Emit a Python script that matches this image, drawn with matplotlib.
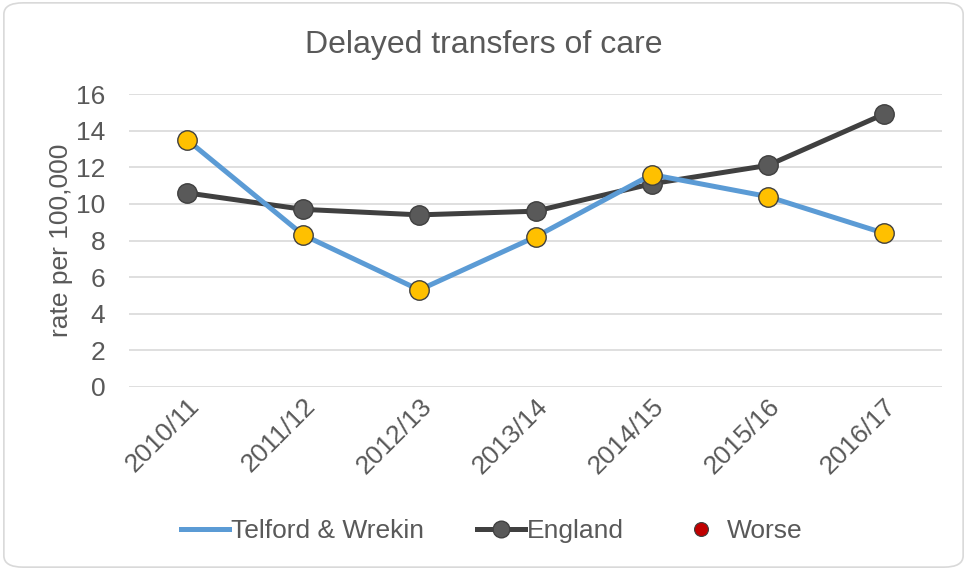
import matplotlib
matplotlib.use("Agg")
import matplotlib.pyplot as plt
from matplotlib.patches import FancyBboxPatch
from matplotlib.lines import Line2D

plt.rcParams['font.family'] = ['Liberation Sans', 'DejaVu Sans']

years = ["2010/11", "2011/12", "2012/13", "2013/14", "2014/15", "2015/16", "2016/17"]
telford = [13.5, 8.3, 5.3, 8.2, 11.6, 10.4, 8.4]
england = [10.6, 9.7, 9.4, 9.6, 11.1, 12.1, 14.9]

grey_txt = "#595959"

fig = plt.figure(figsize=(9.67, 5.70), dpi=100)
# rounded chart border
fig.patches.append(FancyBboxPatch((0.004, 0.005), 0.992, 0.99, boxstyle="round,pad=0,rounding_size=0.02",
                                  transform=fig.transFigure, fill=False, edgecolor="#D9D9D9", linewidth=1.2))

ax = fig.add_axes([129/967, 1 - 387/570, (942 - 129)/967, (387 - 94)/570])
x = list(range(len(years)))

ax.plot(x, england, color="#404040", linewidth=3.6, marker="o", markersize=14,
        markerfacecolor="#595959", markeredgecolor="#404040", markeredgewidth=1, zorder=3)
ax.plot(x, telford, color="#5B9BD5", linewidth=3.6, zorder=4)
ax.plot(x, telford, linestyle="none", marker="o", markersize=14,
        markerfacecolor="#FFC000", markeredgecolor="#404040", markeredgewidth=1, zorder=5)

ax.set_xlim(-0.5, len(years) - 0.5)
ax.set_ylim(0, 16)
ax.set_yticks(range(0, 17, 2))
ax.set_xticks(x)
ax.set_xticklabels(years, rotation=45, ha="right", rotation_mode="anchor")
ax.tick_params(axis="both", length=0, labelsize=19, labelcolor=grey_txt)
ax.tick_params(axis="x", pad=5)
ax.tick_params(axis="y", pad=17)
ax.grid(axis="y", color="#D9D9D9", linewidth=1.2)
ax.set_axisbelow(True)
for s in ax.spines.values():
    s.set_visible(False)

ax.set_ylabel("rate per 100,000", fontsize=19, color=grey_txt, labelpad=2)
fig.text(0.5, 1 - 45/570, "Delayed transfers of care", ha="center", va="center",
         fontsize=23, color=grey_txt)

handles = [
    Line2D([], [], color="#5B9BD5", linewidth=3.6),
    Line2D([], [], color="#404040", linewidth=3.6, marker="o", markersize=12,
           markerfacecolor="#595959", markeredgecolor="#404040"),
    Line2D([], [], linestyle="none", marker="o", markersize=10,
           markerfacecolor="#C00000", markeredgecolor="#404040", markeredgewidth=0.8),
]
fig.legend(handles, ["Telford & Wrekin", "England", "Worse"], loc="center",
           bbox_to_anchor=(492/967, 1 - 531/570), ncol=3, frameon=False, fontsize=19,
           labelcolor=grey_txt, handlelength=1.8, handletextpad=0.1, columnspacing=2.0)

fig.savefig("out.png", dpi=100)
